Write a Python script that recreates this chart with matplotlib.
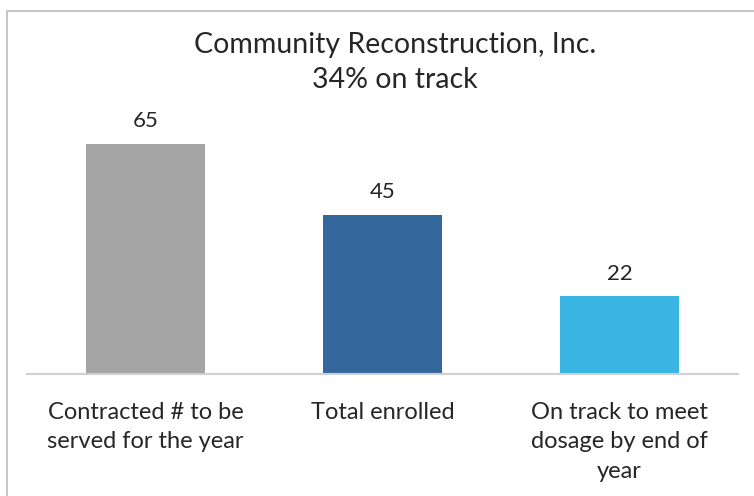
import matplotlib.pyplot as plt

# Enrollment progress, Community Reconstruction, Inc.
categories = ["Contracted # to be\nserved for the year",
              "Total enrolled",
              "On track to meet\ndosage by end of\nyear"]
counts = [65, 45, 22]
title_lines = ["Community Reconstruction, Inc.", "34% on track"]

colors = ["#A5A5A5", "#34679B", "#39B4E3"]
text_color = "#262626"

plt.rcParams["font.family"] = ["Lato", "DejaVu Sans"]

fig = plt.figure(figsize=(7.54, 4.96), dpi=100)
ax = fig.add_axes([27 / 754, 122 / 496, 711 / 754, 248 / 496])

x = list(range(len(categories)))
bars = ax.bar(x, counts, width=0.5, color=colors)

for rect, val in zip(bars, counts):
    ax.annotate(str(val), (rect.get_x() + rect.get_width() / 2, val),
                xytext=(0, 9), textcoords="offset points",
                ha="center", va="bottom", fontsize=16, color=text_color)

ax.set_xlim(-0.5, len(categories) - 0.5)
ax.set_ylim(0, 70)
ax.set_yticks([])
ax.set_xticks(x)
ax.set_xticklabels(categories, fontsize=17, color=text_color, linespacing=1.5)
ax.tick_params(axis="x", length=0, pad=20)
for side in ["top", "left", "right"]:
    ax.spines[side].set_visible(False)
ax.spines["bottom"].set_color("#D0D0D0")
ax.spines["bottom"].set_linewidth(1.5)

fig.text(395 / 754, 1 - 45 / 496, title_lines[0], ha="center", va="center",
         fontsize=20.5, color=text_color)
fig.text(395 / 754, 1 - 80 / 496, title_lines[1], ha="center", va="center",
         fontsize=20.5, color=text_color)

# outer chart frame (only left and top edges fall inside the image)
fig.add_artist(plt.Line2D([7 / 754, 7 / 754], [0, 1 - 11 / 496],
                          transform=fig.transFigure, color="#C8C8C8", lw=1.5))
fig.add_artist(plt.Line2D([7 / 754, 1], [1 - 11 / 496, 1 - 11 / 496],
                          transform=fig.transFigure, color="#C8C8C8", lw=1.5))

fig.savefig("out.png", dpi=100)
